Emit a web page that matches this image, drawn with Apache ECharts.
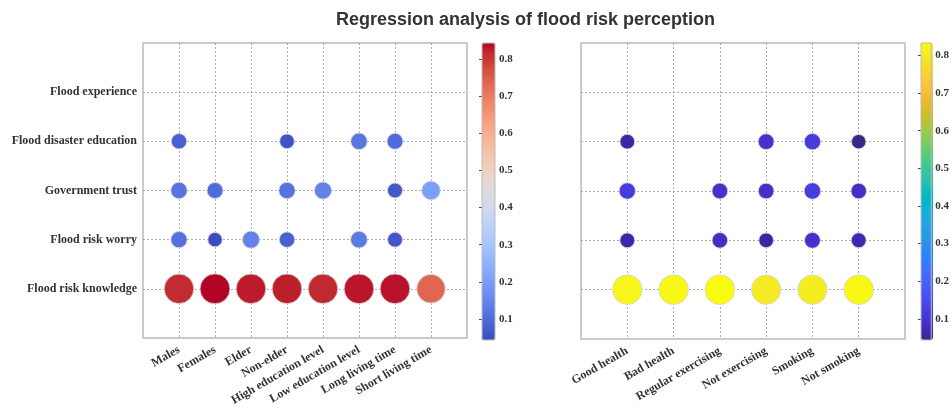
<!DOCTYPE html>
<html>
<head>
<meta charset="utf-8">
<script src="https://cdn.jsdelivr.net/npm/echarts@6/dist/echarts.min.js"></script>
<style>
  html, body { margin: 0; padding: 0; background: #fff; }
  #chart { width: 952px; height: 408px; }
</style>
</head>
<body>
<div id="chart"></div>
<script>
// Perception factors (rows, bottom to top)
const factors = ['Flood risk knowledge', 'Flood risk worry', 'Government trust', 'Flood disaster education', 'Flood experience'];

// Left panel: demographic groups
const groupsA = ['Males', 'Females', 'Elder', 'Non-elder', 'High education level', 'Low education level', 'Long living time', 'Short living time'];
const knowledgeA  = [0.815, 0.844, 0.828, 0.826, 0.818, 0.832, 0.834, 0.735];
const worryA      = [0.110, 0.043, 0.145, 0.080, null, 0.130, 0.060, null];
const trustA      = [0.115, 0.100, null, 0.115, 0.145, null, 0.065, 0.205];
const educationA  = [0.080, null, null, 0.055, null, 0.120, 0.100, null];
const experienceA = [null, null, null, null, null, null, null, null];

// Right panel: health and lifestyle groups
const groupsB = ['Good health', 'Bad health', 'Regular exercising', 'Not exercising', 'Smoking', 'Not smoking'];
const knowledgeB  = [0.820, 0.825, 0.833, 0.800, 0.805, 0.825];
const worryB      = [0.060, null, 0.085, 0.055, 0.095, 0.065];
const trustB      = [0.115, null, 0.095, 0.090, 0.120, 0.085];
const educationB  = [0.055, null, null, 0.095, 0.115, 0.044];
const experienceB = [null, null, null, null, null, null];

// Colorbar tick labels
const colorbarTicks = [0.1, 0.2, 0.3, 0.4, 0.5, 0.6, 0.7, 0.8];

// Colormaps
const coolwarm = [
  [59,76,192],[68,90,204],[77,104,215],[87,117,225],[98,130,234],[108,142,241],[119,154,247],[130,165,251],
  [141,176,254],[152,185,255],[163,194,255],[174,201,253],[184,208,249],[194,213,244],[204,217,238],[213,219,230],
  [221,221,221],[229,216,209],[236,211,197],[241,204,185],[245,196,173],[247,187,160],[247,177,148],[247,166,135],
  [244,154,123],[241,141,111],[236,127,99],[229,112,88],[222,96,77],[213,80,66],[203,62,56],[192,40,47],[180,4,38]
].map(c => 'rgb(' + c.join(',') + ')');

const parula = [
  [0.2081,0.1663,0.5292],[0.2422,0.1504,0.6603],[0.2504,0.1650,0.7076],[0.2578,0.1818,0.7511],[0.2647,0.1978,0.7952],
  [0.2706,0.2147,0.8364],[0.2751,0.2342,0.8710],[0.2783,0.2559,0.8991],[0.2803,0.2782,0.9221],[0.2813,0.3006,0.9414],
  [0.2810,0.3228,0.9579],[0.2795,0.3447,0.9717],[0.2760,0.3667,0.9829],[0.2699,0.3892,0.9906],[0.2602,0.4123,0.9952],
  [0.2440,0.4358,0.9988],[0.2206,0.4603,0.9973],[0.1963,0.4847,0.9892],[0.1834,0.5074,0.9798],[0.1786,0.5289,0.9682],
  [0.1764,0.5499,0.9520],[0.1687,0.5703,0.9359],[0.1540,0.5902,0.9218],[0.1460,0.6091,0.9079],[0.1380,0.6276,0.8973],
  [0.1248,0.6459,0.8883],[0.1113,0.6635,0.8763],[0.0952,0.6798,0.8598],[0.0689,0.6948,0.8394],[0.0297,0.7082,0.8163],
  [0.0036,0.7203,0.7917],[0.0067,0.7312,0.7660],[0.0433,0.7411,0.7394],[0.0964,0.7500,0.7120],[0.1408,0.7584,0.6842],
  [0.1717,0.7670,0.6554],[0.1938,0.7758,0.6251],[0.2161,0.7843,0.5923],[0.2470,0.7918,0.5567],[0.2906,0.7973,0.5188],
  [0.3406,0.8008,0.4789],[0.3909,0.8029,0.4354],[0.4456,0.8024,0.3909],[0.5044,0.7993,0.3480],[0.5616,0.7942,0.3045],
  [0.6174,0.7876,0.2612],[0.6720,0.7793,0.2227],[0.7242,0.7698,0.1910],[0.7738,0.7598,0.1646],[0.8203,0.7498,0.1535],
  [0.8634,0.7406,0.1596],[0.9035,0.7330,0.1774],[0.9393,0.7288,0.2100],[0.9728,0.7298,0.2394],[0.9956,0.7434,0.2371],
  [0.9970,0.7659,0.2199],[0.9952,0.7893,0.2028],[0.9892,0.8136,0.1885],[0.9786,0.8386,0.1766],[0.9676,0.8639,0.1643],
  [0.9610,0.8890,0.1537],[0.9597,0.9135,0.1423],[0.9628,0.9373,0.1265],[0.9691,0.9606,0.1064],[0.9763,0.9831,0.0538]
].map(c => 'rgb(' + c.map(x => Math.round(x * 255)).join(',') + ')');

// Build [groupIndex, factorIndex, value] triples
function buildPoints(rows) {
  const pts = [];
  rows.forEach((row, r) => row.forEach((v, c) => { if (v !== null) pts.push([c, r, v]); }));
  return pts;
}
const pointsA = buildPoints([knowledgeA, worryA, trustA, educationA, experienceA]);
const pointsB = buildPoints([knowledgeB, worryB, trustB, educationB, experienceB]);
const minA = Math.min(...pointsA.map(p => p[2])), maxA = Math.max(...pointsA.map(p => p[2]));
const minB = Math.min(...pointsB.map(p => p[2])), maxB = Math.max(...pointsB.map(p => p[2]));

const labelFont = { fontFamily: 'Liberation Serif', fontWeight: 'bold', fontSize: 12, color: '#333' };
const gridLine = { show: true, showMinLine: false, showMaxLine: false, lineStyle: { type: [2, 2], color: '#9a9a9a', width: 0.8 } };

function xAxisFor(gridIndex, groups) {
  return {
    gridIndex, type: 'value', min: -1, max: groups.length, interval: 1,
    axisLine: { show: false }, axisTick: { show: false },
    axisLabel: Object.assign({ rotate: 30, margin: 11, formatter: v => groups[v] || '' }, labelFont),
    splitLine: gridLine
  };
}
function yAxisFor(gridIndex, showLabels) {
  return {
    gridIndex, type: 'value', min: -1, max: factors.length, interval: 1,
    axisLine: { show: false }, axisTick: { show: false },
    axisLabel: Object.assign({ show: showLabels, margin: 6, formatter: v => factors[v] || '' }, labelFont),
    splitLine: gridLine
  };
}
function colorbarAxis(gridIndex, min, max) {
  return {
    gridIndex, type: 'value', min, max, position: 'right',
    axisLine: { show: false }, splitLine: { show: false },
    axisTick: { show: true, inside: true, length: 3, customValues: colorbarTicks, lineStyle: { color: '#444', width: 1 } },
    axisLabel: { customValues: colorbarTicks, margin: 4, formatter: v => v.toFixed(1),
      fontFamily: 'Liberation Serif', fontWeight: 'bold', fontSize: 11, color: '#333' }
  };
}
const bubbleSize = p => Math.sqrt(170 + 865 * p[2]);
const bubbleStyle = { borderColor: 'rgba(215,215,215,0.9)', borderWidth: 1, opacity: 1 };

const chart = echarts.init(document.getElementById('chart'), null, { renderer: 'canvas' });
chart.setOption({
  animation: false,
  backgroundColor: '#fff',
  title: {
    text: 'Regression analysis of flood risk perception',
    left: 336, top: 11, padding: 0,
    textStyle: { fontFamily: 'Liberation Sans', fontSize: 18, fontWeight: 'bold', color: '#333' }
  },
  grid: [
    { left: 143, top: 43, width: 324, height: 296, show: true, borderColor: '#bbb', borderWidth: 1.5, backgroundColor: 'transparent' },
    { left: 581, top: 43, width: 324, height: 296, show: true, borderColor: '#bbb', borderWidth: 1.5, backgroundColor: 'transparent' },
    { left: 482, top: 43, width: 13, height: 297, show: true, borderColor: '#bbb', borderWidth: 1, backgroundColor: 'transparent', z: 10 },
    { left: 921, top: 43, width: 12, height: 297, show: true, borderColor: '#bbb', borderWidth: 1, backgroundColor: 'transparent', z: 10 }
  ],
  xAxis: [
    xAxisFor(0, groupsA),
    xAxisFor(1, groupsB),
    { gridIndex: 2, type: 'value', show: false },
    { gridIndex: 3, type: 'value', show: false }
  ],
  yAxis: [
    yAxisFor(0, true),
    yAxisFor(1, false),
    colorbarAxis(2, minA, maxA),
    colorbarAxis(3, minB, maxB)
  ],
  visualMap: [
    { type: 'continuous', seriesIndex: 0, dimension: 2, min: minA, max: maxA, inRange: { color: coolwarm },
      left: 482, top: 43, itemWidth: 13, itemHeight: 297, padding: 0, calculable: false, text: null, hoverLink: false },
    { type: 'continuous', seriesIndex: 1, dimension: 2, min: minB, max: maxB, inRange: { color: parula },
      left: 921, top: 43, itemWidth: 12, itemHeight: 297, padding: 0, calculable: false, text: null, hoverLink: false }
  ],
  series: [
    { type: 'scatter', xAxisIndex: 0, yAxisIndex: 0, data: pointsA, symbolSize: bubbleSize, itemStyle: bubbleStyle, emphasis: { disabled: true }, z: 3 },
    { type: 'scatter', xAxisIndex: 1, yAxisIndex: 1, data: pointsB, symbolSize: bubbleSize, itemStyle: bubbleStyle, emphasis: { disabled: true }, z: 3 }
  ]
});
</script>
</body>
</html>
